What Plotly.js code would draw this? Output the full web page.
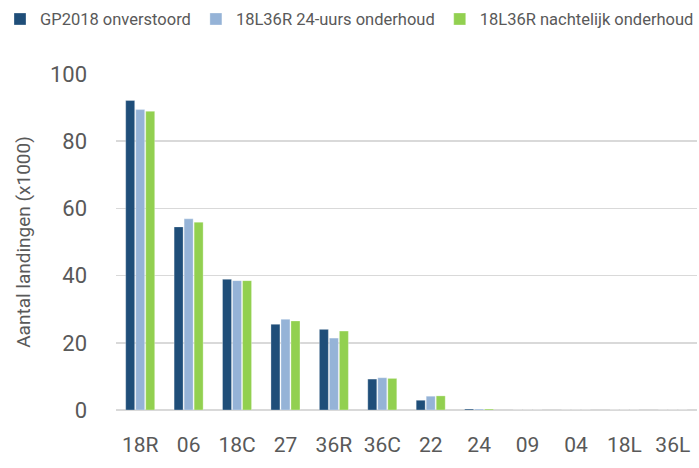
<!DOCTYPE html>
<html><head><meta charset="utf-8">
<script src="https://cdn.plot.ly/plotly-3.0.1.min.js"></script>
<style>html,body{margin:0;padding:0;background:#fff}</style>
</head><body><div id="chart" style="width:699px;height:468px"></div>
<script>
const categories = ["18R","06","18C","27","36R","36C","22","24","09","04","18L","36L"];
const gp2018 = [92.1,54.5,38.9,25.5,24.0,9.2,2.9,0.3,0,0,0,0];
const onderhoud24 = [89.4,56.9,38.5,27.0,21.4,9.6,4.1,0.3,0,0,0,0];
const nachtelijk = [88.9,55.9,38.5,26.5,23.5,9.4,4.2,0.3,0,0,0,0];
const seriesNames = ["GP2018 onverstoord","18L36R 24-uurs onderhoud","18L36R nachtelijk onderhoud"];
const colors = ["#1F4E79","#95B3D7","#92D050"];
const FONT = "Roboto,'Liberation Sans',sans-serif";
const vals = [gp2018, onderhoud24, nachtelijk];
const traces = vals.map((v,i)=>({
  type:"bar", x:categories, y:v, name:seriesNames[i],
  marker:{color:colors[i], line:{color:"rgba(255,255,255,0.6)", width:0.5}},
  hoverinfo:"skip"
}));
const layout = {
  width:699, height:468,
  margin:{l:116, r:2, t:74, b:58},
  barmode:"group", bargap:0.38, bargroupgap:0.1,
  paper_bgcolor:"#fff", plot_bgcolor:"#fff",
  font:{family:FONT, color:"#595959"},
  showlegend:true,
  legend:{orientation:"h", xref:"paper", x:-0.185, xanchor:"left", yref:"paper", y:1.215, yanchor:"top",
    font:{size:16.5, color:"#595959", family:FONT}, itemwidth:30, tracegroupgap:0, borderwidth:0},
  xaxis:{type:"category", tickfont:{size:21, color:"#595959"}, showline:false, ticks:"",
    showgrid:false, zeroline:false, ticklabelstandoff:20},
  yaxis:{range:[0,100], dtick:20, tickfont:{size:22, color:"#595959"}, showgrid:true,
    gridcolor:"#d9d9d9", gridwidth:1.5, zeroline:true, zerolinecolor:"#d9d9d9", zerolinewidth:2,
    ticks:"", ticklabelstandoff:28,
    title:{text:"Aantal landingen (x1000)", font:{size:19, color:"#595959"}, standoff:14}}
};
Plotly.newPlot("chart", traces, layout, {displayModeBar:false, staticPlot:true});
</script></body></html>
